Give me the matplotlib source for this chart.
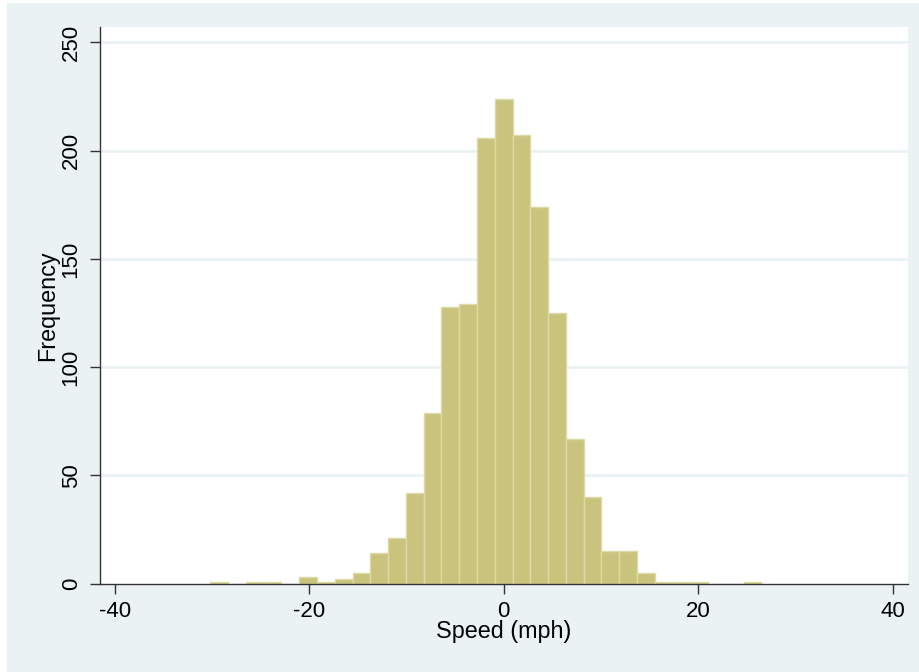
import numpy as np
import matplotlib
matplotlib.use("Agg")
import matplotlib.pyplot as plt
from matplotlib.patches import Rectangle

# ---- data ----
bin_start = -30.16
bin_width = 1.827
counts = [1, 0, 1, 1, 0, 3, 1, 2, 5, 14, 21, 42, 79, 128, 129, 206,
          224, 207, 174, 125, 67, 40, 15, 15, 5, 1, 1, 1, 0, 0, 1]
x_ticks = [-40, -20, 0, 20, 40]
y_ticks = [0, 50, 100, 150, 200, 250]
x_label = "Speed (mph)"
y_label = "Frequency"

plt.rcParams['font.family'] = ['Liberation Sans', 'DejaVu Sans']
plt.rcParams['axes.unicode_minus'] = False

W, H = 920, 672
fig = plt.figure(figsize=(W / 100, H / 100), dpi=100, facecolor='white')
bg = '#EAF2F3'
fig.patches.append(Rectangle((7 / W, 0), 1 - 7 / W, 1 - 3 / H, transform=fig.transFigure,
                             facecolor=bg, edgecolor='none', zorder=-10))

ax = fig.add_axes([100 / W, (H - 583.7) / H, 808 / W, (583.7 - 27) / H])
ax.set_facecolor('white')

lefts = bin_start + bin_width * np.arange(len(counts))
ax.bar(lefts, counts, width=bin_width, align='edge', color='#C9C37E',
       edgecolor='#DEDAA6', linewidth=1.0, zorder=3)

ax.set_xlim(-41.5, 41.55)
ax.set_ylim(0, 257.1)
ax.set_xticks(x_ticks)
ax.set_xticklabels([str(v) for v in x_ticks])
ax.set_yticks(y_ticks)
ax.set_yticklabels([str(v) for v in y_ticks], rotation=90, va='center')

for v in y_ticks[1:]:
    ax.axhline(v, color='#EAF2F3', linewidth=2, zorder=1)

for s in ['top', 'right']:
    ax.spines[s].set_visible(False)
for s in ['left', 'bottom']:
    ax.spines[s].set_color('#333333')
    ax.spines[s].set_linewidth(1.0)
    ax.spines[s].set_zorder(4)

ax.tick_params(axis='both', direction='out', length=7.2, width=1.0, color='#333333',
               labelsize=16, labelcolor='black')
ax.tick_params(axis='x', pad=5)
ax.tick_params(axis='y', pad=6)

ax.set_xlabel(x_label, fontsize=16.8, labelpad=-1)
ax.set_ylabel(y_label, fontsize=16.8, labelpad=1)

fig.savefig("out.png", dpi=100, facecolor=fig.get_facecolor())
